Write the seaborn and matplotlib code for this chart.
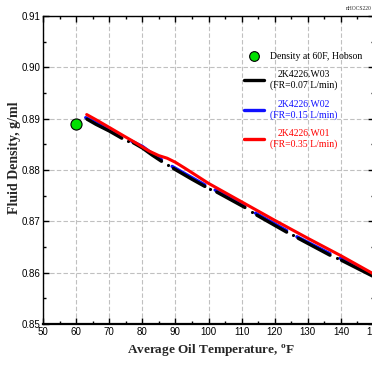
import numpy as np
import pandas as pd
import matplotlib
matplotlib.use("Agg")
import matplotlib.pyplot as plt
from matplotlib.lines import Line2D
import seaborn as sns

# Hobson reference density at 60 F
ref_temp = [60.0]
ref_dens = [0.8890]

# 2K4226.W01, FR = 0.35 L/min
w01_temp = [63.2, 66.0, 70.0, 74.5, 78.0, 82.0, 85.0, 87.5, 90.0, 93.0,
            100.0, 110.0, 120.0, 130.0, 140.0, 150.0]
w01_dens = [0.8908, 0.8898, 0.8883, 0.8866, 0.8853, 0.8837, 0.8828, 0.8823,
            0.8815, 0.8803, 0.8774, 0.8738, 0.8702, 0.8667, 0.8633, 0.8597]

# 2K4226.W02, FR = 0.15 L/min (recorded in segments)
w02_temp = [62.9, 66.0, 70.0, 73.8,
            76.8, 80.0, 83.0, 85.8,
            89.0, 95.0, 98.9,
            102.0, 111.0,
            114.2, 123.6,
            126.7, 136.7,
            139.8, 150.0]
w02_dens = [0.8902, 0.8892, 0.8879, 0.8865,
            0.8856, 0.8846, 0.8832, 0.8820,
            0.8807, 0.8785, 0.8771,
            0.8761, 0.8730,
            0.8716, 0.8682,
            0.8670, 0.8637,
            0.8628, 0.8595]
w02_seg = [1, 1, 1, 1, 2, 2, 2, 2, 3, 3, 3, 4, 4, 5, 5, 6, 6, 7, 7]

# 2K4226.W03, FR = 0.07 L/min (recorded in segments)
w03_temp = [63.3, 66.0, 70.0, 73.8,
            77.3, 80.0, 83.0, 85.8,
            89.4, 95.0, 98.9,
            102.5, 111.0,
            114.6, 123.6,
            127.1, 136.7,
            140.2, 150.0]
w03_dens = [0.8899, 0.8889, 0.8876, 0.8862,
            0.8853, 0.8843, 0.8829, 0.8817,
            0.8803, 0.8782, 0.8768,
            0.8757, 0.8727,
            0.8712, 0.8679,
            0.8667, 0.8634,
            0.8624, 0.8592]
w03_seg = [1, 1, 1, 1, 2, 2, 2, 2, 3, 3, 3, 4, 4, 5, 5, 6, 6, 7, 7]
# isolated W03 readings between segments
w03_pt_temp = [75.8, 87.9, 100.5, 113.0, 125.6, 138.9]
w03_pt_dens = [0.8856, 0.8809, 0.8763, 0.8719, 0.8673, 0.8628]

legend_labels = ["Density at 60F, Hobson",
                 "2K4226.W03\n(FR=0.07 L/min)",
                 "2K4226.W02\n(FR=0.15 L/min)",
                 "2K4226.W01\n(FR=0.35 L/min)"]
legend_colors = ["black", "black", "#1010ff", "#ff0000"]

sns.set_theme(style="ticks")
plt.rcParams["font.family"] = ["Liberation Sans Narrow", "Liberation Sans", "DejaVu Sans"]

fig = plt.figure(figsize=(3.72, 3.68), dpi=100)
ax = fig.add_axes([43 / 372, 1 - 324 / 368, 331 / 372, 308 / 368])

w02 = pd.DataFrame({"t": w02_temp, "d": w02_dens, "s": w02_seg})
w03 = pd.DataFrame({"t": w03_temp, "d": w03_dens, "s": w03_seg})
w01 = pd.DataFrame({"t": w01_temp, "d": w01_dens})

sns.lineplot(data=w02, x="t", y="d", units="s", estimator=None, sort=False,
             color="#1010ff", linewidth=2.4, ax=ax, zorder=3)
sns.lineplot(data=w03, x="t", y="d", units="s", estimator=None, sort=False,
             color="black", linewidth=2.4, ax=ax, zorder=4)
sns.scatterplot(x=w03_pt_temp, y=w03_pt_dens, color="black", s=5,
                linewidth=0, ax=ax, zorder=4)
sns.lineplot(data=w01, x="t", y="d", estimator=None, sort=False,
             color="#ff0000", linewidth=2.2, ax=ax, zorder=5)
ax.plot(ref_temp, ref_dens, linestyle="none", marker="o", markersize=8,
        markerfacecolor="#00e000", markeredgecolor="black",
        markeredgewidth=0.8, zorder=6)

ax.set_xlim(50, 150)
ax.set_ylim(0.85, 0.91)
ax.set_xticks(np.arange(50, 151, 10))
ax.set_xticks(np.arange(55, 150, 10), minor=True)
ax.set_yticks(np.arange(0.85, 0.9101, 0.01))
ax.set_yticks(np.arange(0.855, 0.91, 0.01), minor=True)
ax.set_yticklabels([f"{v:.2f}" for v in np.arange(0.85, 0.9101, 0.01)])
ax.tick_params(which="both", direction="in", top=True, right=True,
               labelsize=7, pad=2, colors="black")
ax.tick_params(which="major", length=4, width=1)
ax.tick_params(which="minor", length=2.5, width=1)
ax.grid(True, which="major", color="#c0c0c0", linestyle=(0, (4, 2)), linewidth=0.8)
ax.set_axisbelow(True)
for sp in ax.spines.values():
    sp.set_color("black")
    sp.set_linewidth(1.0)
ax.spines["bottom"].set_linewidth(1.6)
ax.set_xlabel("")
ax.set_ylabel("")

serif = ["Liberation Serif", "DejaVu Serif"]
fig.text(211 / 372, 1 - 351 / 368, "Average Oil Temperature, $^{\\mathregular{o}}$F",
         ha="center", va="center", fontsize=9.5, fontweight="bold", family=serif)
fig.text(21 / 372, 1 - 158 / 368, "Fluid Density, g/ml", rotation=90,
         ha="right", va="center", fontsize=10, fontweight="bold", family=serif)
fig.text(346 / 372, 1 - 9 / 368, "nHOCS220", ha="left", va="center",
         fontsize=4, family=serif)

handles = [
    Line2D([], [], linestyle="none", marker="o", markersize=7,
           markerfacecolor="#00e000", markeredgecolor="black", markeredgewidth=0.8),
    Line2D([], [], color="black", linewidth=2.4),
    Line2D([], [], color="#1010ff", linewidth=2.4),
    Line2D([], [], color="#ff0000", linewidth=2.4),
]
leg = ax.legend(handles, legend_labels, loc="upper left",
                bbox_to_anchor=((244 - 43) / 331, (324 - 52) / 308),
                frameon=False, handlelength=2.1, handletextpad=0.6,
                labelspacing=0.95, borderpad=0, borderaxespad=0,
                prop={"family": serif, "size": 7})
for txt, col in zip(leg.get_texts(), legend_colors):
    txt.set_color(col)
    txt.set_multialignment("center")

fig.savefig("out.png", dpi=100)
